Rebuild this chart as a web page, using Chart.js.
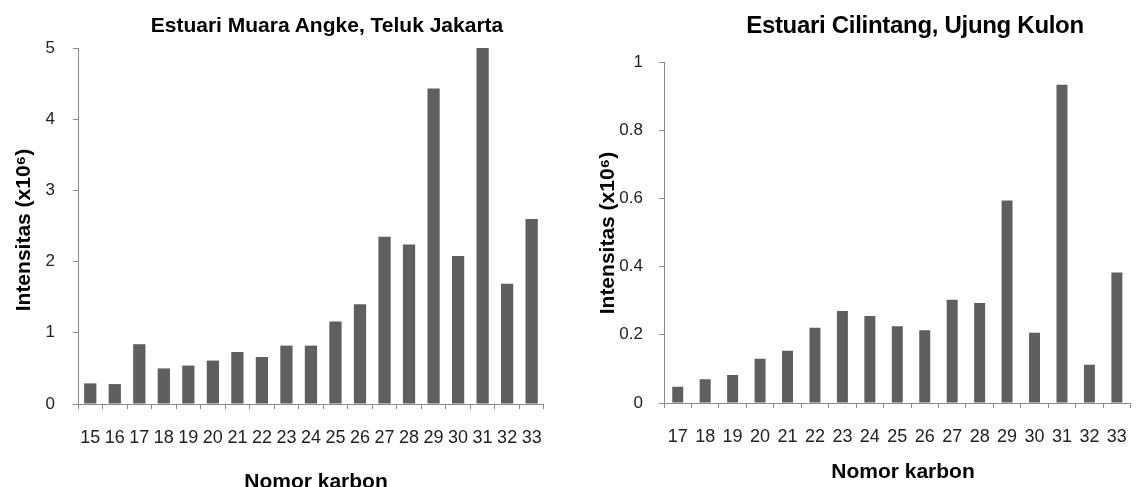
<!DOCTYPE html>
<html>
<head>
<meta charset="utf-8">
<script src="https://cdn.jsdelivr.net/npm/chart.js@4.4.1/dist/chart.umd.min.js"></script>
<style>
  html, body { margin: 0; padding: 0; background: #fff; }
  #wrap { position: relative; width: 1137px; height: 487px; overflow: hidden; background: #fff; }
  .box { position: absolute; top: 0; height: 487px; }
  .txt { position: absolute; font-family: "Liberation Sans", Arial, sans-serif; font-weight: bold; color: #000; white-space: nowrap; text-align: center; }
  .rot { transform: rotate(-90deg); transform-origin: 50% 50%; }
</style>
</head>
<body>
<div id="wrap">
  <div class="box" style="left:0;width:560px;"><canvas id="c1"></canvas></div>
  <div class="box" style="left:570px;width:575px;"><canvas id="c2"></canvas></div>

  <div class="txt" style="left:127px;top:14px;width:400px;font-size:21px;line-height:21px;">Estuari Muara Angke, Teluk Jakarta</div>
  <div class="txt" style="left:715px;top:13px;width:400px;font-size:24px;line-height:24px;letter-spacing:-0.3px;">Estuari Cilintang, Ujung Kulon</div>

  <div class="txt rot" style="left:-127px;top:219px;width:300px;font-size:21px;line-height:22px;">Intensitas (x10⁶)</div>
  <div class="txt rot" style="left:457px;top:222px;width:300px;font-size:21px;line-height:22px;">Intensitas (x10⁶)</div>

  <div class="txt" style="left:166px;top:470px;width:300px;font-size:21px;line-height:21px;">Nomor karbon</div>
  <div class="txt" style="left:753px;top:460px;width:300px;font-size:21px;line-height:21px;">Nomor karbon</div>
</div>
<script>
// ---- data ----
const carbonA = ["15","16","17","18","19","20","21","22","23","24","25","26","27","28","29","30","31","32","33"];
const intensA = [0.29, 0.28, 0.84, 0.50, 0.54, 0.61, 0.73, 0.66, 0.82, 0.82, 1.16, 1.40, 2.35, 2.24, 4.43, 2.08, 5.00, 1.69, 2.60];

const carbonB = ["17","18","19","20","21","22","23","24","25","26","27","28","29","30","31","32","33"];
const intensB = [0.048, 0.070, 0.082, 0.130, 0.153, 0.221, 0.270, 0.255, 0.225, 0.213, 0.303, 0.293, 0.594, 0.206, 0.933, 0.112, 0.383];

const yMaxA = 5, yStepA = 1;
const yMaxB = 1, yStepB = 0.2;

// ---- styles ----
const BAR = '#5f5f5f';
const AXIS = '#8a8a8a';
const TICKFONT = '"Liberation Sans Narrow", "Arial Narrow", "Liberation Sans", Arial, sans-serif';

function fmt(v) { return String(Math.round(v * 10) / 10); }

function makeChart(id, labels, values, yMax, yStep, opts) {
  return new Chart(document.getElementById(id), {
    type: 'bar',
    data: {
      labels: labels,
      datasets: [{
        data: values,
        backgroundColor: BAR,
        borderWidth: 0,
        categoryPercentage: 1.0,
        barPercentage: opts.barPct
      }]
    },
    options: {
      responsive: true,
      maintainAspectRatio: false,
      animation: false,
      events: [],
      layout: { padding: { top: opts.top, right: opts.right, bottom: 0, left: 0 } },
      plugins: { legend: { display: false }, tooltip: { enabled: false }, title: { display: false } },
      scales: {
        x: {
          offset: true,
          border: { display: true, color: AXIS, width: 1 },
          grid: { display: true, offset: true, drawOnChartArea: false, drawTicks: true, tickLength: 5, color: AXIS },
          ticks: { color: '#222', font: { family: TICKFONT, size: 18 }, padding: opts.xPad, maxRotation: 0, autoSkip: false },
          afterFit: (s) => { s.height = opts.xH; }
        },
        y: {
          min: 0, max: yMax,
          border: { display: true, color: AXIS, width: 1 },
          grid: { display: true, drawOnChartArea: false, drawTicks: true, tickLength: 5, color: AXIS },
          ticks: { stepSize: yStep, color: '#222', font: { family: TICKFONT, size: 17 }, padding: opts.yPad, callback: (v) => fmt(v) },
          afterFit: (s) => { s.width = opts.yW; }
        }
      }
    }
  });
}

makeChart('c1', carbonA, intensA, yMaxA, yStepA, { barPct: 0.5, top: 48, right: 13, xH: 83, yW: 78, xPad: 18, yPad: 18 });
makeChart('c2', carbonB, intensB, yMaxB, yStepB, { barPct: 0.4, top: 62, right: 4, xH: 84, yW: 94, xPad: 18, yPad: 16 });
</script>
</body>
</html>
